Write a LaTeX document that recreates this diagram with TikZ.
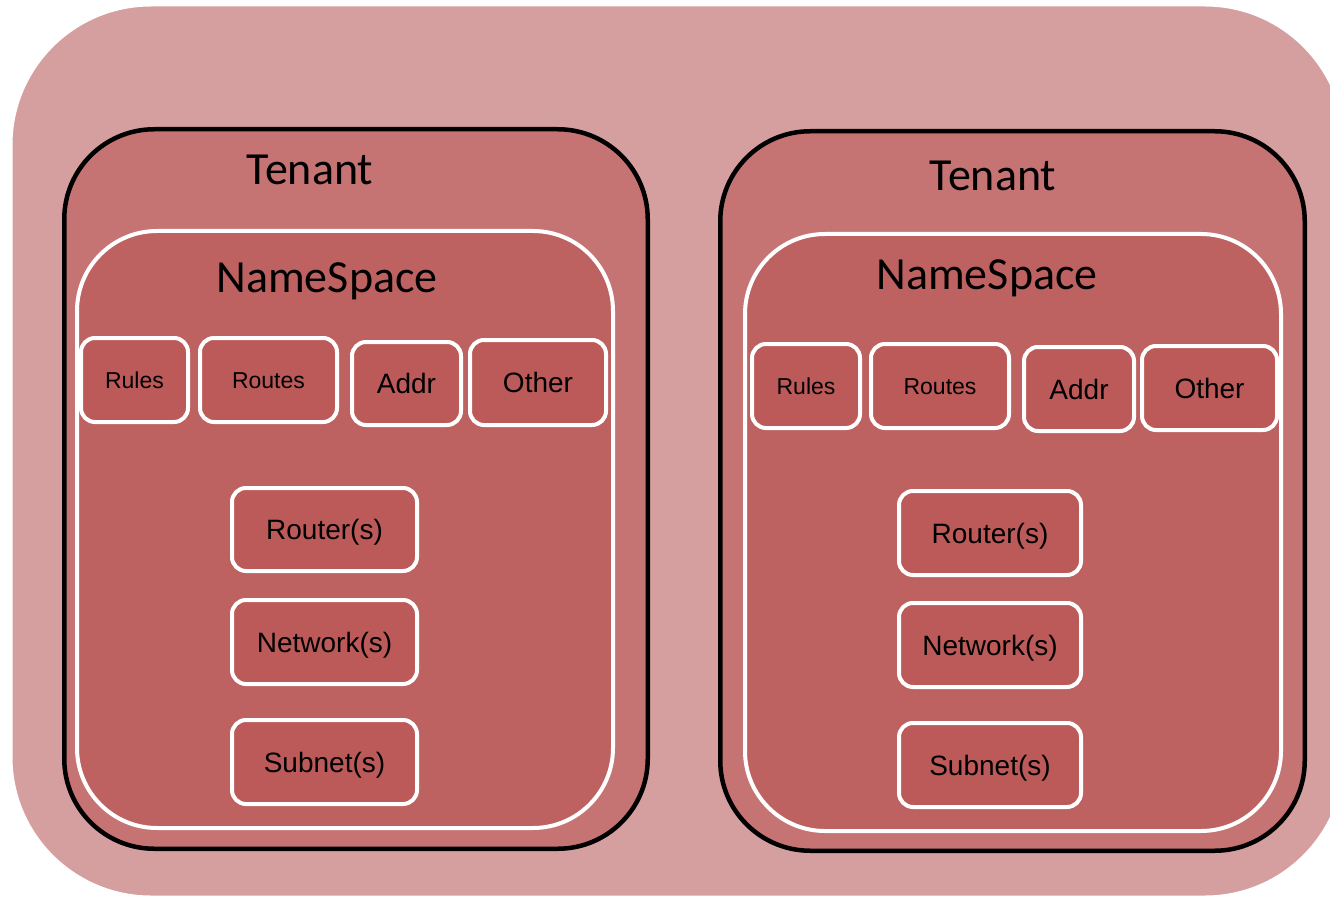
\documentclass[tikz,border=0pt]{standalone}
\usepackage{fontspec}
\setmainfont{Liberation Sans}
\newfontfamily\calib{Carlito}
\definecolor{outerfill}{HTML}{D69F9F}
\definecolor{tenantfill}{HTML}{C57373}
\definecolor{nsfill}{HTML}{BD6260}
\definecolor{boxfill}{HTML}{BB5A58}
\begin{document}
\begin{tikzpicture}[x=1pt,y=-1pt,
  tenantbox/.style={draw=black, line width=4.5pt, fill=tenantfill, rounded corners=90pt, inner sep=0pt},
  nsbox/.style={draw=white, line width=4pt, fill=nsfill, rounded corners=80pt, inner sep=0pt},
  smallbox/.style={draw=white, line width=4pt, fill=boxfill, rounded corners=14pt, inner sep=0pt, text depth=0pt},
  sm/.style={smallbox, font=\fontsize{23}{23}\selectfont, text height=16.5pt},
  md/.style={smallbox, font=\fontsize{28}{28}\selectfont, text height=20pt},
  big/.style={font=\calib\fontsize{46}{46}\selectfont, anchor=base, inner sep=0pt}]
\useasboundingbox (0,0) rectangle (1330,901);
\begin{scope}
\clip (0,0) rectangle (1330,901);
\path[draw=white, line width=3pt, fill=outerfill, rounded corners=140pt] (11,5) rectangle (1345,897);
\end{scope}
% left tenant
\node[tenantbox, minimum width=583.5pt, minimum height=719.5pt] (tenL) at (356,489) {};
\node[big] (tenLlab) at (310,185) {Tenant};
\node[nsbox, minimum width=536pt, minimum height=597pt] (nsL) at (345,529.5) {};
\node[big] (nsLlab) at (327,292) {NameSpace};
\node[sm, minimum width=107pt, minimum height=84pt] (rulesL) at (134.5,380) {Rules};
\node[sm, minimum width=137pt, minimum height=84pt] (routesL) at (268.5,380) {Routes};
\node[md, minimum width=109pt, minimum height=83pt] (addrL) at (406.5,383.5) {Addr};
\node[md, minimum width=136pt, minimum height=85pt] (otherL) at (538,382.5) {Other};
\node[md, minimum width=185pt, minimum height=83pt] (routerL) at (324.5,529.5) {Router(s)};
\node[md, minimum width=185pt, minimum height=84pt] (networkL) at (324.5,642) {Network(s)};
\node[md, minimum width=185pt, minimum height=84pt] (subnetL) at (324.5,762) {Subnet(s)};
% right tenant
\node[tenantbox, minimum width=584.5pt, minimum height=719.5pt] (tenR) at (1012.5,491) {};
\node[big] (tenRlab) at (993,191) {Tenant};
\node[nsbox, minimum width=536pt, minimum height=597pt] (nsR) at (1013,532.5) {};
\node[big] (nsRlab) at (987,290) {NameSpace};
\node[sm, minimum width=108pt, minimum height=84pt] (rulesR) at (806,386) {Rules};
\node[sm, minimum width=138pt, minimum height=84pt] (routesR) at (940,386) {Routes};
\node[md, minimum width=110pt, minimum height=84pt] (addrR) at (1079,389) {Addr};
\node[md, minimum width=135pt, minimum height=84pt] (otherR) at (1209.5,388) {Other};
\node[md, minimum width=182pt, minimum height=84pt] (routerR) at (990,533) {Router(s)};
\node[md, minimum width=182pt, minimum height=84pt] (networkR) at (990,645) {Network(s)};
\node[md, minimum width=182pt, minimum height=84pt] (subnetR) at (990,765) {Subnet(s)};
\end{tikzpicture}
\end{document}
